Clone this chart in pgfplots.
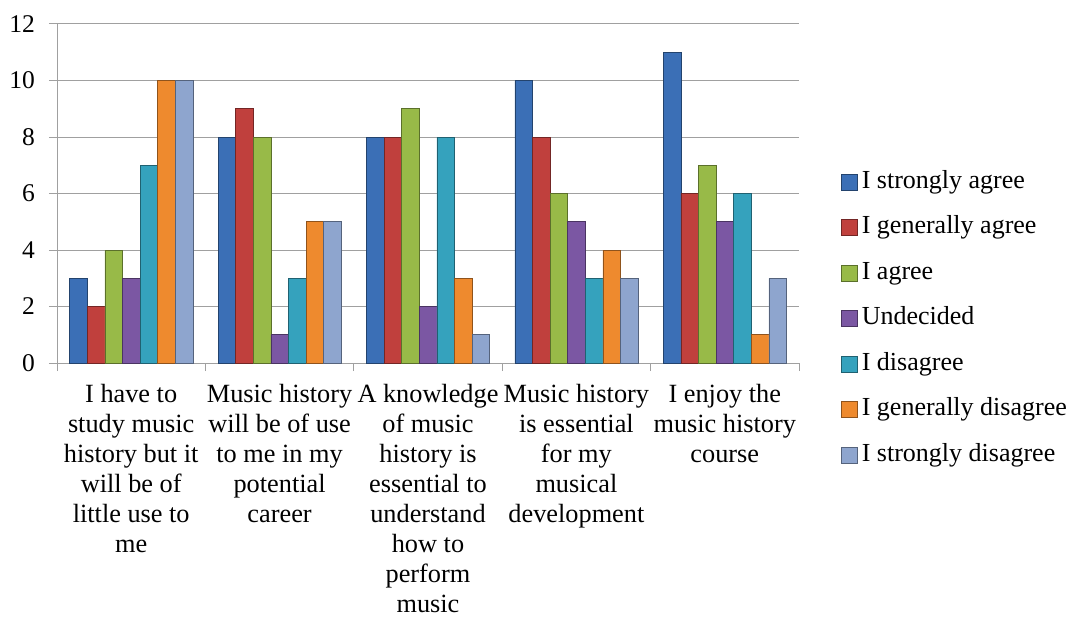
\documentclass[border=0pt]{standalone}
\usepackage{pgfplots}
\pgfplotsset{compat=1.18}
\usepackage{fontspec}
\setmainfont{Liberation Serif}
\definecolor{c1}{HTML}{3B6FB6}
\definecolor{c2}{HTML}{C0403D}
\definecolor{c3}{HTML}{98BA48}
\definecolor{c4}{HTML}{7B57A3}
\definecolor{c5}{HTML}{35A2BD}
\definecolor{c6}{HTML}{EE8A2E}
\definecolor{c7}{HTML}{8EA5CE}
\definecolor{gridc}{HTML}{A0A0A0}
\pgfplotsset{
  barsty/.style={draw=#1!60!black, line width=0.6pt, fill=#1}
}
\begin{document}
\begin{tikzpicture}
\begin{axis}[
  at={(0,0)}, anchor=south west,
  width=742pt, height=339pt, scale only axis,
  ybar=0pt, bar width=17.6pt,
  xmin=-0.5, xmax=4.5, ymin=0, ymax=12,
  ytick={0,2,...,12},
  xtick={0,...,4},
  xticklabels={
    {I have to\\study music\\history but it\\will be of\\little use to\\me},
    {Music history\\will be of use\\to me in my\\potential\\career},
    {A knowledge\\of music\\history is\\essential to\\understand\\how to\\perform\\music},
    {Music history\\is essential\\for my\\musical\\development},
    {I enjoy the\\music history\\course}},
  minor xtick={-0.5,0.5,...,4.5},
  major x tick style={draw=none},
  minor x tick style={gridc, line width=1pt},
  y tick style={gridc, line width=1pt},
  major tick length=8pt, minor tick length=8pt,
  tick align=outside,
  axis x line*=bottom, axis y line*=left,
  axis line style={gridc, line width=1pt, -},
  ymajorgrids, grid style={gridc, line width=1pt},
  /pgf/number format/assume math mode=true,
  yticklabel style={font=\fontsize{25.5}{30}\selectfont, inner sep=0pt, xshift=-14pt},
  xticklabel style={font=\fontsize{26.3}{30}\selectfont, align=center, inner sep=0pt, yshift=-13pt},
  legend style={draw=none, fill=none, at={(1.0526,0.575)}, anchor=north west,
    font=\fontsize{26}{31}\selectfont,
    nodes={inner sep=0pt, text height=18pt, text depth=6pt, anchor=west},
    row sep=21.5pt, column sep=4pt},
  legend cell align=left,
  legend image code/.code={\draw[#1] (0pt,-8pt) rectangle (16pt,8pt);},
]
\addplot[barsty=c1] coordinates {(0,3) (1,8) (2,8) (3,10) (4,11)};
\addplot[barsty=c2] coordinates {(0,2) (1,9) (2,8) (3,8) (4,6)};
\addplot[barsty=c3] coordinates {(0,4) (1,8) (2,9) (3,6) (4,7)};
\addplot[barsty=c4] coordinates {(0,3) (1,1) (2,2) (3,5) (4,5)};
\addplot[barsty=c5] coordinates {(0,7) (1,3) (2,8) (3,3) (4,6)};
\addplot[barsty=c6] coordinates {(0,10) (1,5) (2,3) (3,4) (4,1)};
\addplot[barsty=c7] coordinates {(0,10) (1,5) (2,1) (3,3) (4,3)};
\legend{I strongly agree, I generally agree, I agree, Undecided, I disagree, I generally disagree, I strongly disagree}
\end{axis}
\pgfresetboundingbox
\path[use as bounding box] (-57pt,-258pt) rectangle (1018pt,363pt);
\end{tikzpicture}
\end{document}
